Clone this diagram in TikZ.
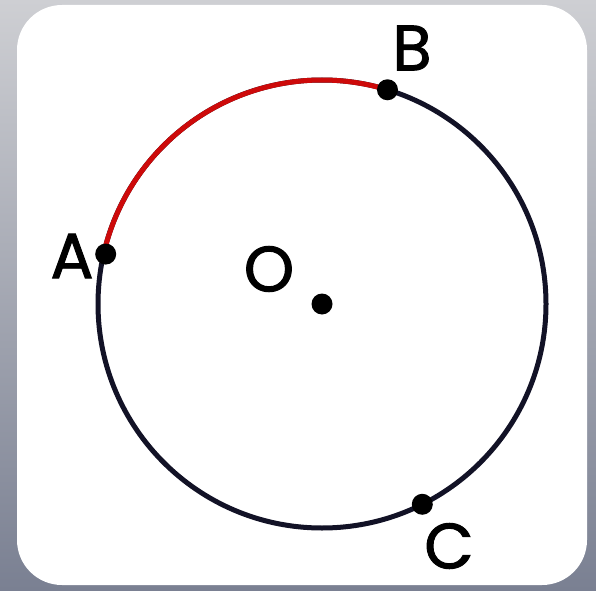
\documentclass[tikz,border=0pt]{standalone}
\usepackage{fontspec}
\usepackage{xcolor}
\usepackage{tikz}
\usetikzlibrary{positioning}
\newfontfamily\labelfont{Poppins}[FakeBold=1.5]
\definecolor{frametop}{RGB}{206, 207, 211}
\definecolor{framebottom}{RGB}{122, 128, 146}
\definecolor{circleink}{RGB}{18, 18, 38}
\definecolor{arcred}{RGB}{205, 10, 10}
\tikzset{
    dot/.style={circle, fill=black, inner sep=0pt, minimum size=21pt},
    pointlabel/.style={font=\labelfont\fontsize{64}{64}\selectfont, inner sep=2pt}
}

\begin{document}
\begin{tikzpicture}[x=1pt, y=1pt]
% Frame and card
\shade[top color=frametop, bottom color=framebottom] (0,0) rectangle (596,590);
\fill[white, rounded corners=45pt] (17,5) rectangle (587,585);

\begin{scope}[shift={(322,286)}]
    % Circle with the highlighted arc AB
    \draw[circleink, line width=5pt] (0,0) circle[radius=224];
    \draw[arcred, line width=5pt] (167:224) arc[start angle=167, end angle=73, radius=224];

    % Points
    \node[dot] (pO) at (0,0) {};
    \node[dot] (pA) at (167:222) {};
    \node[dot] (pB) at (73:224) {};
    \node[dot] (pC) at (-63.4:224) {};

    % Labels
    \node[pointlabel] (lO) at (-53,35) {O};
    \node[pointlabel] (lA) at (-250,48) {A};
    \node[pointlabel] (lB) at (90,256) {B};
    \node[pointlabel] (lC) at (127,-242) {C};
\end{scope}
\end{tikzpicture}
\end{document}
